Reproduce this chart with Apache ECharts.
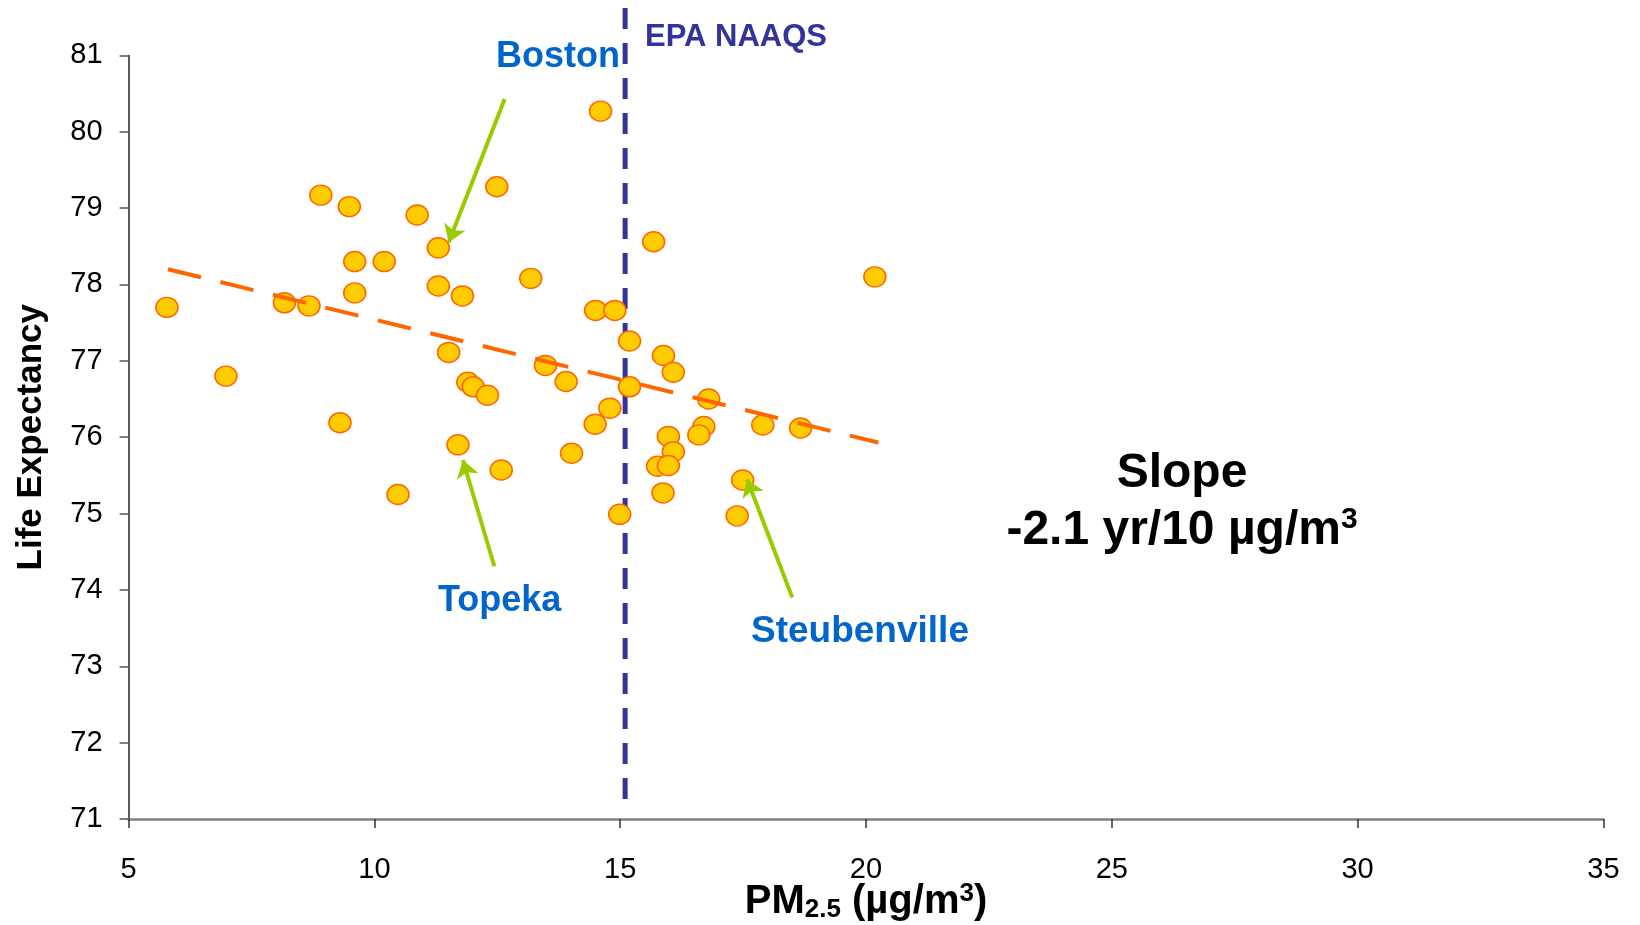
<!DOCTYPE html>
<html>
<head>
<meta charset="utf-8">
<script src="https://cdn.jsdelivr.net/npm/echarts@6/dist/echarts.min.js"></script>
<style>
html,body{margin:0;padding:0;background:#fff;}
#chart{width:1640px;height:925px;}
</style>
</head>
<body>
<div id="chart"></div>
<script>
// ---- data ----
const pm25 = [5.78, 6.98, 8.17, 8.67, 8.91, 9.49, 9.60, 9.60, 9.30, 10.20,
  10.87, 11.30, 11.30, 11.79, 11.51, 11.90, 12.01, 12.30, 11.70, 12.49,
  13.18, 13.48, 13.90, 14.01, 12.58, 14.60, 14.50, 14.89, 14.49, 14.79,
  15.19, 15.19, 15.68, 15.88, 16.08, 16.80, 16.70, 16.60, 15.98, 16.08,
  17.90, 18.67, 15.76, 15.98, 10.48, 14.99, 15.87, 17.49, 17.38, 20.18];
const lifeExpectancy = [77.70, 76.80, 77.76, 77.72, 79.17, 79.02, 78.30, 77.89, 76.19, 78.30,
  78.91, 78.48, 77.98, 77.85, 77.11, 76.72, 76.66, 76.55, 75.90, 79.28,
  78.08, 76.94, 76.73, 75.79, 75.57, 80.27, 77.66, 77.66, 76.17, 76.38,
  77.26, 76.66, 78.56, 77.07, 76.85, 76.50, 76.14, 76.03, 76.01, 75.81,
  76.16, 76.12, 75.62, 75.63, 75.25, 74.99, 75.27, 75.44, 74.97, 78.10];
const trendX = [5.8, 20.25];
const trendY = [78.2, 75.93];
const naaqsX = [15.1, 15.1];
const naaqsY = [81.62, 71.08];
const arrowNames = ['Boston', 'Topeka', 'Steubenville'];
const arrowFrom = [[12.65, 80.43], [12.44, 74.31], [18.50, 73.90]];
const arrowTo = [[11.51, 78.55], [11.80, 75.70], [17.58, 75.45]];
const xTicks = [5, 10, 15, 20, 25, 30, 35];
const yTicks = [71, 72, 73, 74, 75, 76, 77, 78, 79, 80, 81];

const FONT = 'Arial, "Liberation Sans", Helvetica, sans-serif';

const chart = echarts.init(document.getElementById('chart'), null, {renderer: 'canvas'});

const scatterData = pm25.map((x, i) => [x, lifeExpectancy[i]]);
const trendData = trendX.map((x, i) => [x, trendY[i]]);
const naaqsData = naaqsX.map((x, i) => [x, naaqsY[i]]);
const arrowData = arrowNames.map((n, i) => ({name: n, coords: [arrowFrom[i], arrowTo[i]]}));

function txt(text, x, y, size, color, align, rich) {
  const st = {
    text: text, fill: color, fontSize: size, fontWeight: 'bold',
    fontFamily: FONT, align: align || 'left', verticalAlign: 'middle'
  };
  if (rich) st.rich = rich;
  return {type: 'text', x: x, y: y, z: 100, style: st};
}

chart.setOption({
  backgroundColor: '#ffffff',
  animation: false,
  grid: {left: 128.6, right: 36.6, top: 55.4, bottom: 106, containLabel: false, outerBoundsMode: 'none'},
  xAxis: {
    type: 'value', min: xTicks[0], max: xTicks[xTicks.length - 1], interval: 5,
    axisLine: {show: true, onZero: false, lineStyle: {color: '#808080', width: 2.5}},
    axisTick: {show: true, inside: false, length: 9, lineStyle: {color: '#333', width: 1.5}},
    splitLine: {show: false},
    axisLabel: {fontSize: 29, color: '#000', fontFamily: FONT, margin: 36},
    name: '{a|PM}{s|2.5}{a| (\u00b5g/m}{p|3}{a|)}',
    nameLocation: 'middle', nameGap: 62, nameMoveOverlap: false,
    nameTextStyle: {
      rich: {
        a: {fontSize: 40, fontWeight: 'bold', color: '#000', fontFamily: FONT, lineHeight: 42},
        s: {fontSize: 26, fontWeight: 'bold', color: '#000', fontFamily: FONT, lineHeight: 20, verticalAlign: 'bottom'},
        p: {fontSize: 26, fontWeight: 'bold', color: '#000', fontFamily: FONT, lineHeight: 26, verticalAlign: 'top'}
      }
    }
  },
  yAxis: {
    type: 'value', min: yTicks[0], max: yTicks[yTicks.length - 1], interval: 1,
    axisLine: {show: true, onZero: false, lineStyle: {color: '#222', width: 1.5}},
    axisTick: {show: true, inside: false, length: 9, lineStyle: {color: '#555', width: 1.5}},
    splitLine: {show: false},
    axisLabel: {fontSize: 29, color: '#000', fontFamily: FONT, margin: 26},
    name: 'Life Expectancy', nameLocation: 'middle', nameGap: 80, nameRotate: 90, nameMoveOverlap: false,
    nameTextStyle: {fontSize: 35, fontWeight: 'bold', color: '#000', fontFamily: FONT}
  },
  series: [
    {
      type: 'line', name: 'EPA NAAQS', data: naaqsData, clip: false, z: 1,
      symbol: 'none', silent: true,
      lineStyle: {color: '#333399', width: 5, type: [21, 14], cap: 'butt'}
    },
    {
      type: 'scatter', name: 'Cities', data: scatterData, z: 2,
      symbol: 'circle', symbolSize: [22, 20],
      itemStyle: {color: '#FFCC00', borderColor: '#FF6600', borderWidth: 1.5, opacity: 1}
    },
    {
      type: 'line', name: 'Trend', data: trendData, z: 3,
      symbol: 'none', silent: true,
      lineStyle: {color: '#FF6600', width: 4, type: [34, 20], cap: 'butt'}
    },
    {
      type: 'lines', coordinateSystem: 'cartesian2d', name: 'Arrows', data: arrowData, z: 4,
      symbol: ['none', 'arrow'], symbolSize: 17, silent: true,
      lineStyle: {color: '#99CC00', width: 4, opacity: 1, curveness: 0}
    }
  ],
  graphic: [
    txt('Boston', 496, 57, 36, '#0066CC'),
    txt('EPA NAAQS', 645, 37, 31, '#333399'),
    txt('Topeka', 438, 601, 36, '#0066CC'),
    txt('Steubenville', 751, 632, 37, '#0066CC'),
    txt('Slope', 1182, 474, 48, '#000', 'center'),
    txt('{a|-2.1 yr/10 \u00b5g/m}{p|3}', 1182, 531, 48, '#000', 'center', {
      a: {fontSize: 48, fontWeight: 'bold', fill: '#000', fontFamily: FONT, lineHeight: 52},
      p: {fontSize: 30, fontWeight: 'bold', fill: '#000', fontFamily: FONT, lineHeight: 30, verticalAlign: 'top'}
    })
  ]
});
</script>
</body>
</html>
